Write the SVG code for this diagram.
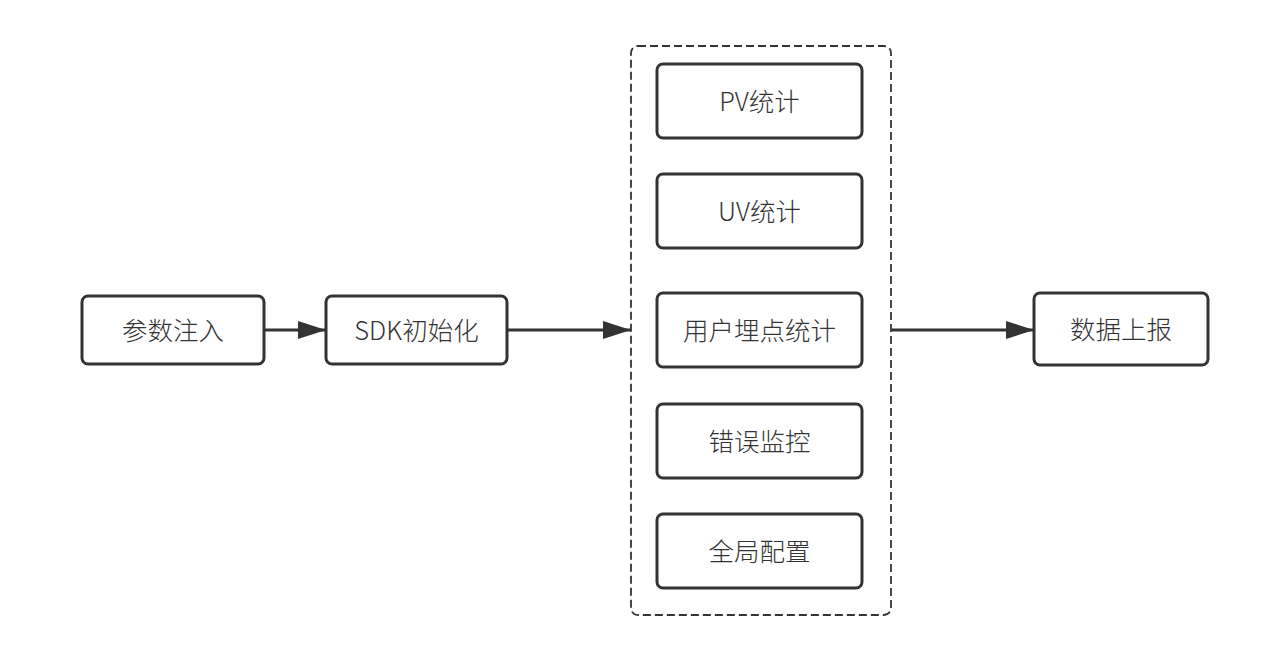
<svg xmlns="http://www.w3.org/2000/svg" width="1270" height="656" viewBox="0 0 1270 656">
<defs>
<marker id="arr" markerWidth="28" markerHeight="20" refX="28" refY="10" markerUnits="userSpaceOnUse" orient="auto">
<path d="M0,1 L28,10 L0,19 Z" fill="#333"/>
</marker>
<style>
.box{fill:#fff;stroke:#333;stroke-width:3}
.lbl{font-family:"Noto Sans CJK SC","Noto Sans",sans-serif;font-size:25.5px;font-weight:300;fill:#333;text-anchor:middle;dominant-baseline:central}
.conn{stroke:#333;stroke-width:3;fill:none}
</style>
</defs>
<rect width="1270" height="656" fill="#fff"/>
<g id="group">
<rect x="631" y="46" width="260" height="569" rx="7" fill="none" stroke="#333" stroke-width="1.8" stroke-dasharray="8 4"/>
</g>
<g id="n1"><rect class="box" x="82" y="296" width="182" height="68" rx="6"/><text class="lbl" x="173" y="328">参数注入</text></g>
<g id="n2"><rect class="box" x="326" y="296" width="181" height="68" rx="6"/><text class="lbl" x="416.5" y="328">SDK初始化</text></g>
<g id="n3"><rect class="box" x="657" y="64" width="205" height="74" rx="6"/><text class="lbl" x="759.5" y="99">PV统计</text></g>
<g id="n4"><rect class="box" x="657" y="174" width="205" height="74" rx="6"/><text class="lbl" x="759.5" y="209">UV统计</text></g>
<g id="n5"><rect class="box" x="657" y="293" width="205" height="74" rx="6"/><text class="lbl" x="759.5" y="328">用户埋点统计</text></g>
<g id="n6"><rect class="box" x="657" y="404" width="205" height="74" rx="6"/><text class="lbl" x="759.5" y="439">错误监控</text></g>
<g id="n7"><rect class="box" x="657" y="514" width="205" height="74" rx="6"/><text class="lbl" x="759.5" y="549">全局配置</text></g>
<g id="n8"><rect class="box" x="1034" y="293" width="174" height="72" rx="6"/><text class="lbl" x="1121" y="327">数据上报</text></g>
<g id="connectors">
<line class="conn" x1="264" y1="330" x2="326" y2="330" marker-end="url(#arr)"/>
<line class="conn" x1="507" y1="330" x2="631" y2="330" marker-end="url(#arr)"/>
<line class="conn" x1="891" y1="330" x2="1034" y2="330" marker-end="url(#arr)"/>
</g>
</svg>
